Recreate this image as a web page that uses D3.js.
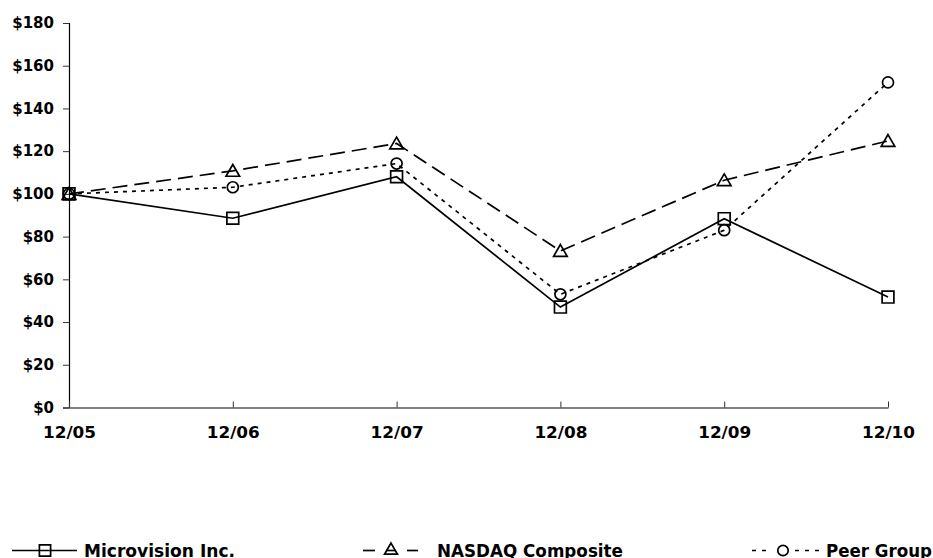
<!DOCTYPE html>
<html>
<head>
<meta charset="utf-8">
<script src="https://cdn.jsdelivr.net/npm/d3@7"></script>
<style>
  html, body { margin: 0; padding: 0; background: #fff; }
  svg { display: block; }
  text { font-family: "DejaVu Sans", Verdana, sans-serif; font-weight: bold; fill: #000; }
</style>
</head>
<body>
<svg id="chart" width="933" height="558"></svg>
<script>
const categories = ["12/05", "12/06", "12/07", "12/08", "12/09", "12/10"];
const microvision = [100, 88.6, 108, 47, 88.4, 51.7];
const nasdaq = [100, 110.8, 123.6, 73.3, 106.4, 124.8];
const peerGroup = [100, 103.1, 114.2, 53, 83, 152.2];
const yTicks = [0, 20, 40, 60, 80, 100, 120, 140, 160, 180];
const seriesNames = ["Microvision Inc.", "NASDAQ Composite", "Peer Group"];

const svg = d3.select("#chart");
const x = d3.scalePoint().domain(categories).range([69, 888]);
const y = d3.scaleLinear().domain([0, 180]).range([407.5, 23]);

// Y axis
const yAxis = svg.append("g")
  .attr("transform", "translate(69,0)")
  .call(d3.axisLeft(y).tickValues(yTicks).tickSize(6).tickPadding(9).tickFormat(d => "$" + d));
yAxis.select(".domain").attr("stroke", "#000").attr("stroke-width", 1.2);
yAxis.selectAll(".tick line").attr("stroke", "#333").attr("stroke-width", 1);
yAxis.selectAll("text").style("font-size", "15px").style("font-family", "DejaVu Sans").style("font-weight", "bold");

// X axis
const xAxis = svg.append("g")
  .attr("transform", "translate(0,407.5)")
  .call(d3.axisBottom(x).tickSizeInner(-6).tickSizeOuter(0).tickPadding(20));
xAxis.select(".domain").attr("stroke", "#808080").attr("stroke-width", 2);
xAxis.selectAll(".tick line").attr("stroke", "#333").attr("stroke-width", 1);
xAxis.selectAll("text").style("font-size", "15px").style("font-family", "DejaVu Sans").style("font-weight", "bold")
  .attr("textLength", 53).attr("lengthAdjust", "spacingAndGlyphs");

const series = [
  { name: seriesNames[0], values: microvision, dash: null, marker: "square" },
  { name: seriesNames[1], values: nasdaq, dash: "15,7", marker: "triangle" },
  { name: seriesNames[2], values: peerGroup, dash: "4,5", marker: "circle" }
];

const line = d3.line().x((d, i) => x(categories[i])).y(d => y(d));
const symbolType = { square: d3.symbolSquare, triangle: d3.symbolTriangle, circle: d3.symbolCircle };
const symbolSize = { square: 140, triangle: 80, circle: 95 };

function drawMarker(g, type, cx, cy, scale) {
  const k = scale || 1;
  g.append("path")
    .attr("d", d3.symbol().type(symbolType[type]).size(symbolSize[type] * k)())
    .attr("transform", `translate(${cx},${cy + (type === "triangle" ? 1.5 : 0)})`)
    .attr("fill", "none")
    .attr("stroke", "#000")
    .attr("stroke-width", 1.7);
}

series.forEach(s => {
  svg.append("path")
    .datum(s.values)
    .attr("d", line)
    .attr("fill", "none")
    .attr("stroke", "#000")
    .attr("stroke-width", 1.7)
    .attr("stroke-dasharray", s.dash);
  const mg = svg.append("g");
  s.values.forEach((v, i) => drawMarker(mg, s.marker, x(categories[i]), y(v)));
});

// Legend
const ly = 550.5;
const lty = 556.5;
const lg = svg.append("g");
function seg(x1, x2, dash) {
  lg.append("line").attr("x1", x1).attr("x2", x2).attr("y1", ly).attr("y2", ly)
    .attr("stroke", "#000").attr("stroke-width", 1.7).attr("stroke-dasharray", dash || null);
}
function label(xp, len, t) {
  lg.append("text").attr("x", xp).attr("y", lty).style("font-size", "17px")
    .attr("textLength", len).attr("lengthAdjust", "spacingAndGlyphs").text(t);
}
// Microvision
seg(12, 77);
drawMarker(lg, "square", 45, ly, 0.9);
label(84, 151, seriesNames[0]);
// NASDAQ
seg(363, 375);
seg(386, 396);
drawMarker(lg, "triangle", 391, ly - 1.5, 0.9);
seg(407, 418);
label(437, 186, seriesNames[1]);
// Peer Group
seg(752, 772, "4,6");
drawMarker(lg, "circle", 783, ly, 0.9);
seg(795, 820, "4,6");
label(826, 106, seriesNames[2]);
</script>
</body>
</html>
